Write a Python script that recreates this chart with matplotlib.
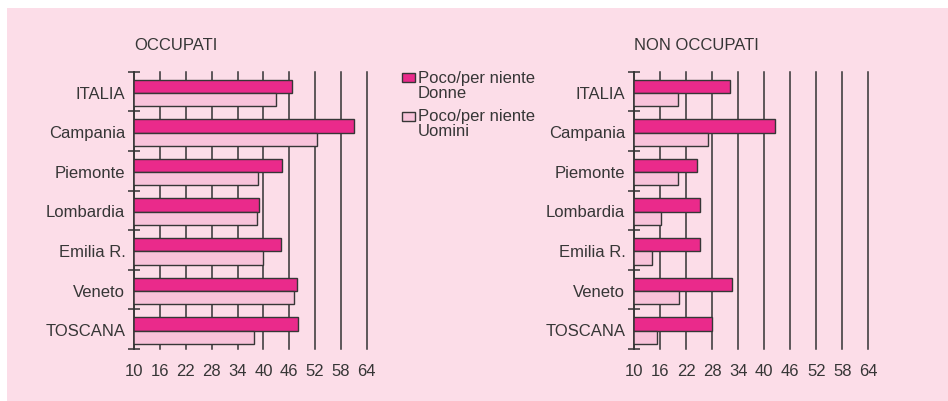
import matplotlib
matplotlib.use("Agg")
import matplotlib.pyplot as plt
from matplotlib.patches import Rectangle
import numpy as np

plt.rcParams['font.family'] = ['Liberation Sans', 'DejaVu Sans']

categories = ["ITALIA", "Campania", "Piemonte", "Lombardia", "Emilia R.", "Veneto", "TOSCANA"]
occ_donne = [46.6, 61.1, 44.4, 39.0, 44.1, 47.8, 48.1]
occ_uomini = [42.9, 52.5, 38.8, 38.5, 40.0, 47.1, 37.9]
non_donne = [32.2, 42.5, 24.5, 25.2, 25.2, 32.6, 27.9]
non_uomini = [20.2, 27.0, 20.2, 16.2, 14.2, 20.3, 15.2]
xticks = [10, 16, 22, 28, 34, 40, 46, 52, 58, 64]
titles = ["OCCUPATI", "NON OCCUPATI"]
legend_labels = ["Poco/per niente\nDonne", "Poco/per niente\nUomini"]

C_DONNE = "#ea2a8b"
C_UOMINI = "#f8c3da"
BG = "#fcdde8"
TXT = "#363636"
LINE = "#333333"
FS = 12

W, H = 948, 402
fig = plt.figure(figsize=(W / 100, H / 100), dpi=100)
fig.patch.set_facecolor("white")
fig.add_artist(Rectangle((7 / W, 0), 1 - 7 / W, 1 - 9 / H, transform=fig.transFigure,
                         facecolor=BG, edgecolor="none", zorder=-10))


def px(x, y):
    return x / W, 1 - y / H


top, bot = 72.7, 350.0
axes_specs = [(134.3, 232.4, occ_donne, occ_uomini), (634.3, 234.0, non_donne, non_uomini)]
n = len(categories)
pos = np.arange(n)
for k, (left, width, d, u) in enumerate(axes_specs):
    ax = fig.add_axes([left / W, 1 - bot / H, width / W, (bot - top) / H])
    ax.patch.set_alpha(0)
    ax.barh(pos + 0.2, d, height=0.336, left=0, align='edge', color=C_DONNE,
            edgecolor=TXT, linewidth=1.0, zorder=3)
    ax.barh(pos + 0.536, u, height=0.336, left=0, align='edge', color=C_UOMINI,
            edgecolor=TXT, linewidth=1.0, zorder=3)
    ax.set_xlim(10, 64)
    ax.set_ylim(n, 0)
    ax.set_xticks(xticks)
    ax.set_xticklabels([str(t) for t in xticks], fontsize=FS, color=TXT)
    ax.tick_params(axis='x', length=0, pad=10)
    ax.xaxis.grid(True, color=LINE, linewidth=1.1, zorder=1)
    for gl in ax.get_xgridlines():
        gl.set_clip_on(False)
    ax.set_axisbelow(True)
    ax.set_yticks(np.arange(n + 1))
    ax.set_yticklabels([])
    ax.tick_params(axis='y', which='major', direction='inout', length=9, width=1.1, color=LINE)
    ax.set_yticks(pos + 0.5, minor=True)
    ax.set_yticklabels(categories, minor=True, fontsize=FS, color=TXT)
    ax.tick_params(axis='y', which='minor', length=0, pad=6.5)
    for s in ['top', 'right', 'bottom']:
        ax.spines[s].set_visible(False)
    ax.spines['left'].set_color(LINE)
    ax.spines['left'].set_linewidth(1.1)
    ax.spines['left'].set_zorder(4)
    tx, ty = px(left, 45)
    fig.text(tx, ty, titles[k], fontsize=FS, color=TXT, ha='left', va='center')

# legend
for (sq_y0, sq_y1, text_top), lab, col in zip([(74.3, 83.3, 71.5), (112.5, 121.7, 109.5)],
                                              legend_labels, [C_DONNE, C_UOMINI]):
    x0, y0 = px(401.5, sq_y1)
    fig.add_artist(Rectangle((x0, y0), 13.5 / W, (sq_y1 - sq_y0) / H, transform=fig.transFigure,
                             facecolor=col, edgecolor=TXT, linewidth=1.0))
    tx, ty = px(418, text_top)
    fig.text(tx, ty, lab, fontsize=FS, color=TXT, ha='left', va='top', linespacing=0.95)

fig.savefig("out.png", dpi=100, facecolor=fig.get_facecolor())
